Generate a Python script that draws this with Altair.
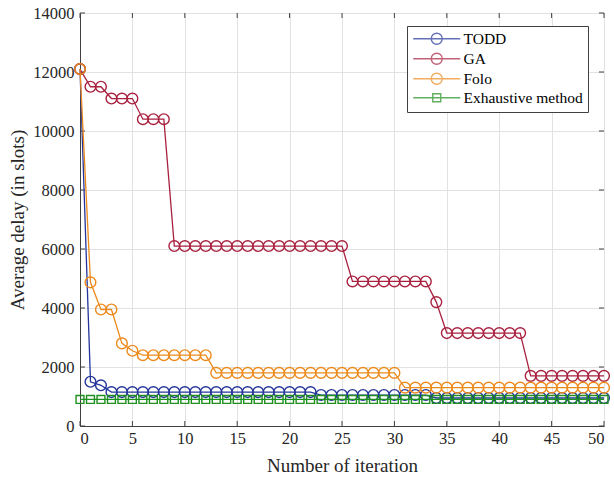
import altair as alt
import pandas as pd

iterations = list(range(51))

todd = [12100, 1500, 1380, 1150, 1150, 1150, 1150, 1150, 1150, 1150,
        1150, 1150, 1150, 1150, 1150, 1150, 1150, 1150, 1150, 1150,
        1150, 1150, 1150, 1050, 1050, 1050, 1050, 1050, 1050, 1050,
        1050, 1050, 1050, 1050, 950, 950, 950, 950, 950, 950,
        950, 950, 950, 950, 950, 950, 950, 950, 950, 950, 950]

ga = [12100, 11500, 11500, 11100, 11100, 11100, 10400, 10400, 10400, 6100,
      6100, 6100, 6100, 6100, 6100, 6100, 6100, 6100, 6100, 6100,
      6100, 6100, 6100, 6100, 6100, 6100, 4900, 4900, 4900, 4900,
      4900, 4900, 4900, 4900, 4200, 3150, 3150, 3150, 3150, 3150,
      3150, 3150, 3150, 1700, 1700, 1700, 1700, 1700, 1700, 1700, 1700]

folo = [12100, 4870, 3950, 3950, 2800, 2550, 2400, 2400, 2400, 2400,
        2400, 2400, 2400, 1800, 1800, 1800, 1800, 1800, 1800, 1800,
        1800, 1800, 1800, 1800, 1800, 1800, 1800, 1800, 1800, 1800,
        1800, 1300, 1300, 1300, 1300, 1300, 1300, 1300, 1300, 1300,
        1300, 1300, 1300, 1300, 1300, 1300, 1300, 1300, 1300, 1300, 1300]

exhaustive = [900, 900, 900, 900, 900, 900, 900, 900, 900, 900,
              900, 900, 900, 900, 900, 900, 900, 900, 900, 900,
              900, 900, 900, 900, 900, 900, 900, 900, 900, 900,
              900, 900, 900, 900, 900, 900, 900, 900, 900, 900,
              900, 900, 900, 900, 900, 900, 900, 900, 900, 900, 900]

series_names = ["TODD", "GA", "Folo", "Exhaustive method"]
series_values = [todd, ga, folo, exhaustive]
series_colors = ["#23349a", "#a8213f", "#ec8a1c", "#1f8f1f"]
marker_shapes = ["circle", "circle", "circle", "square"]
marker_sizes = [115, 115, 115, 62]

x_ticks = [0, 5, 10, 15, 20, 25, 30, 35, 40, 45, 50]
y_ticks = [0, 2000, 4000, 6000, 8000, 10000, 12000, 14000]

FONT = "Liberation Serif"
AXC = "#404040"

# legend symbols: horizontal line with marker (bezier circle / square)
legend_circle = ("M-3.92,0H3.92"
                 "M0.917,0C0.917,0.5065 0.5065,0.917 0,0.917"
                 "C-0.5065,0.917 -0.917,0.5065 -0.917,0"
                 "C-0.917,-0.5065 -0.5065,-0.917 0,-0.917"
                 "C0.5065,-0.917 0.917,-0.5065 0.917,0Z")
legend_square = "M-3.92,0H3.92M-0.667,-0.667H0.667V0.667H-0.667Z"
legend_paths = [legend_circle, legend_circle, legend_circle, legend_square]

rows = []
for name, vals in zip(series_names, series_values):
    for i, v in zip(iterations, vals):
        rows.append({"iter": i, "delay": v, "series": name})
df = pd.DataFrame(rows)

x_enc = alt.X("iter:Q", scale=alt.Scale(domain=[0, 50], nice=False),
              axis=alt.Axis(values=x_ticks, title="Number of iteration",
                            labelPadding=4, titlePadding=10))
y_enc = alt.Y("delay:Q", scale=alt.Scale(domain=[0, 14000], nice=False),
              axis=alt.Axis(values=y_ticks, title="Average delay (in slots)", format="d",
                            labelPadding=6, titlePadding=5))

layers = []

# inward tick marks
xt_df = pd.DataFrame({"iter": x_ticks})
yt_df = pd.DataFrame({"delay": y_ticks})
layers.append(alt.Chart(xt_df).mark_rule(color=AXC, strokeWidth=1).encode(
    x=x_enc, y=alt.value(413), y2=alt.value(408)))
layers.append(alt.Chart(xt_df).mark_rule(color=AXC, strokeWidth=1).encode(
    x=x_enc, y=alt.value(0), y2=alt.value(5)))
layers.append(alt.Chart(yt_df).mark_rule(color=AXC, strokeWidth=1).encode(
    y=y_enc, x=alt.value(0), x2=alt.value(5)))
layers.append(alt.Chart(yt_df).mark_rule(color=AXC, strokeWidth=1).encode(
    y=y_enc, x=alt.value(524), x2=alt.value(519)))

for name, color, shp, sz in zip(series_names, series_colors, marker_shapes, marker_sizes):
    base = alt.Chart(df).transform_filter(alt.datum.series == name)
    layers.append(base.mark_line(color=color, strokeWidth=1.3).encode(x=x_enc, y=y_enc))
    layers.append(base.mark_point(shape=shp, size=sz, filled=False, color=color,
                                  strokeWidth=1.4, opacity=1).encode(x=x_enc, y=y_enc))

leg = dict(title=None, orient="none", legendX=327, legendY=13, padding=5, rowPadding=2,
           strokeColor=AXC, fillColor="white", labelFont=FONT, labelFontSize=15.5,
           labelColor="#000000", symbolSize=144, symbolStrokeWidth=1.4,
           symbolOffset=17, labelOffset=19, labelLimit=0, cornerRadius=0)

legend_layer = alt.Chart(df).mark_point(filled=False, strokeWidth=1.4).encode(
    x=x_enc, y=y_enc,
    color=alt.Color("series:N", scale=alt.Scale(domain=series_names, range=series_colors),
                    legend=alt.Legend(**leg)),
    shape=alt.Shape("series:N", scale=alt.Scale(domain=series_names, range=legend_paths),
                    legend=alt.Legend(**leg)),
).transform_filter("false")
layers.append(legend_layer)

chart = alt.layer(*layers).properties(
    width=524, height=413,
    padding={"left": 80, "top": 13, "right": 10, "bottom": 53},
    autosize=alt.AutoSizeParams(type="none"),
    background="white",
).configure_view(
    stroke=AXC, strokeWidth=1
).configure_axis(
    domainColor=AXC, domainWidth=1, gridColor="#e2e2e2", gridWidth=1, ticks=False,
    labelFont=FONT, labelFontSize=16.5, labelColor="#262626",
    titleFont=FONT, titleFontSize=19, titleFontWeight="normal", titleColor="#262626",
)

chart.save("out.html", embed_options={"renderer": "svg", "actions": False})
